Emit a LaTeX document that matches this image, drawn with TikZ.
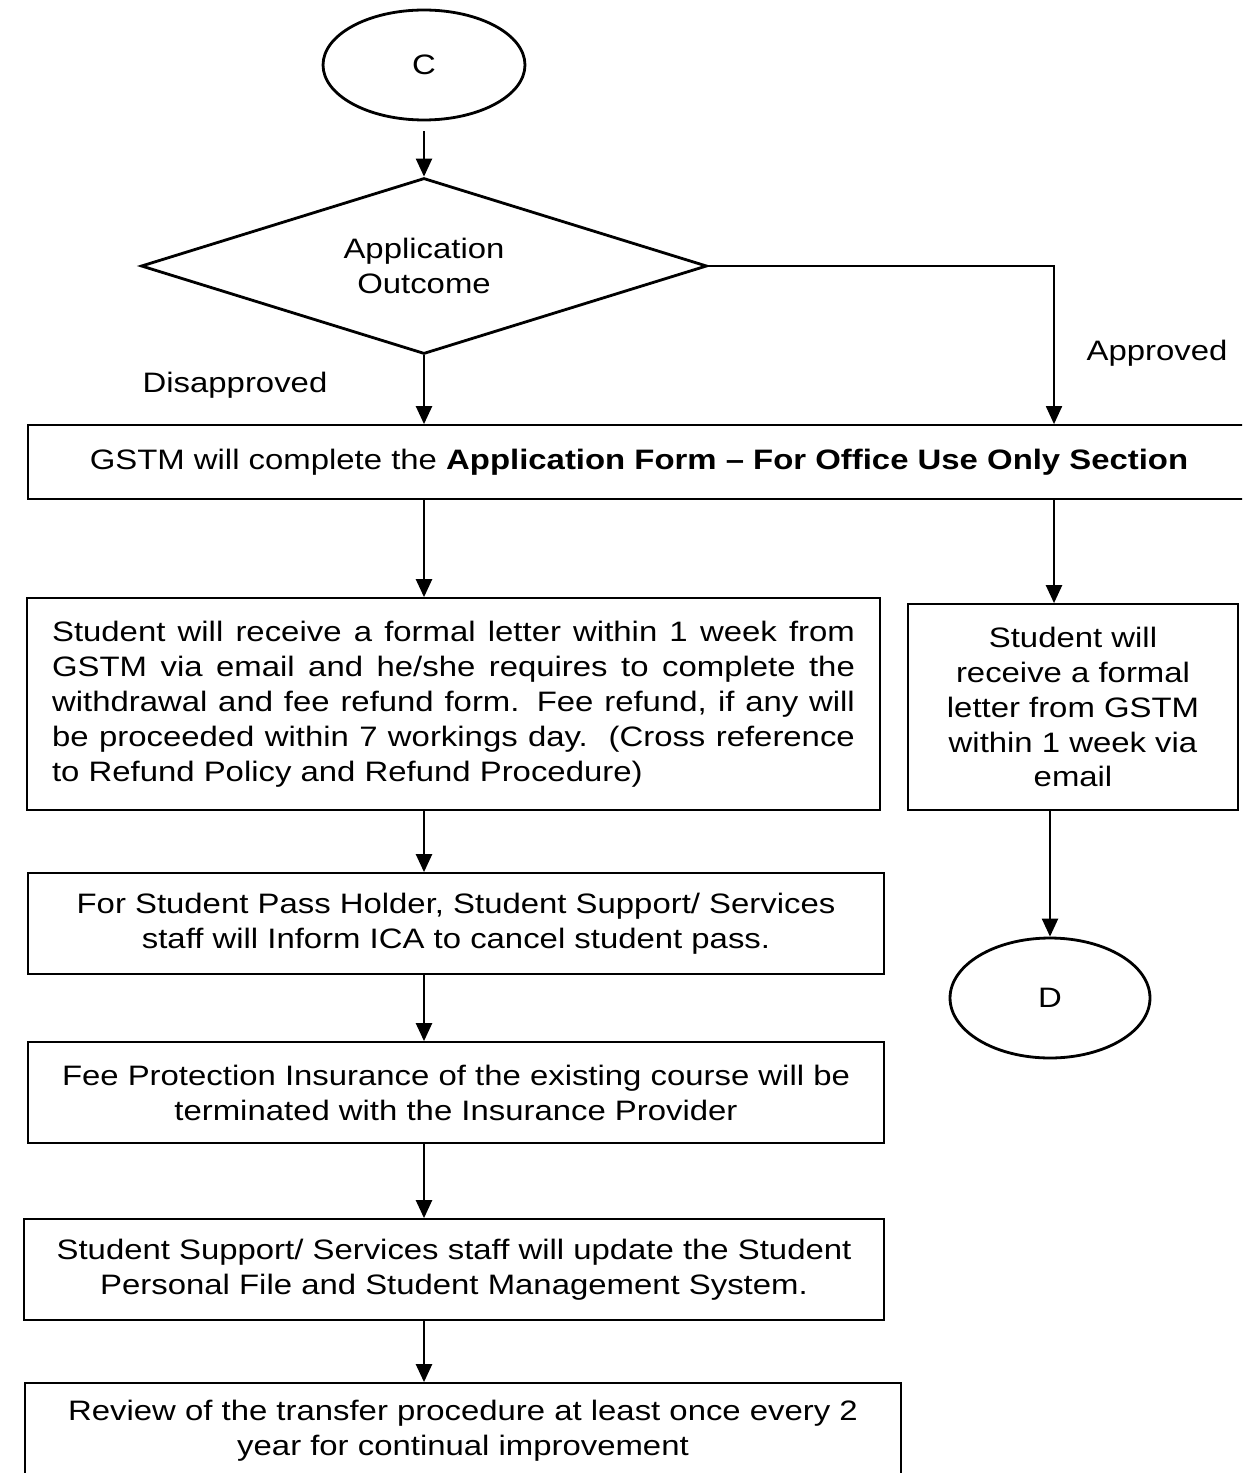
\documentclass[tikz,border=0pt]{standalone}
\usepackage{fontspec}
\setmainfont{Liberation Sans}[FakeStretch=1.17]
\usetikzlibrary{shapes.geometric,arrows.meta}

\begin{document}
\begin{tikzpicture}[x=0.02cm,y=-0.02cm,
  txt/.style={font=\fontsize{16}{19.9}\selectfont},
  box/.style={txt,shape=rectangle,draw=black,align=center,inner sep=0pt,line width=1pt},
  term/.style={txt,shape=ellipse,draw=black,align=center,inner sep=0pt,line width=1.6pt},
  arr/.style={-{Triangle[width=0.32cm,length=0.36cm]},draw=black,line width=1.3pt}]
\useasboundingbox (0,0) rectangle (1242,1473);
\clip (0,0) rectangle (1242,1473);
\node[term,minimum width=4.04cm,minimum height=2.2cm] (c) at (424,65) {C};
\node[txt,shape=diamond,draw=black,align=center,inner sep=0pt,line width=1.6pt,aspect=3.2,minimum width=11.32cm,minimum height=3.52cm] (dec) at (424,266) {Application\\Outcome};
\node[txt] (dis) at (235,385) {Disapproved};
\node[txt] (app) at (1157,353) {Approved};
\coordinate (turn) at (1054,266);
\node[box,minimum width=24.44cm,minimum height=1.48cm] (form) at (639,462) {GSTM will complete the \textbf{Application Form -- For Office Use Only Section}};
\node[box,align=justify,text width=16.06cm,minimum width=17.06cm,minimum height=4.24cm] (refund) at (453.5,704) {Student will receive a formal letter within 1 week from\linebreak GSTM via email and he/she requires to complete the\linebreak withdrawal and fee refund form. Fee refund, if any will\linebreak be proceeded within 7 workings day.\ \ (Cross reference\linebreak to Refund Policy and Refund Procedure)};
\node[box,minimum width=6.6cm,minimum height=4.12cm] (letter) at (1073,707) {Student will\\receive a formal\\letter from GSTM\\within 1 week via\\email};
\node[term,minimum width=4.0cm,minimum height=2.4cm] (d) at (1050,998) {D};
\node[box,minimum width=17.12cm,minimum height=2.02cm] (pass) at (456,923.5) {For Student Pass Holder, Student Support/ Services\\staff will Inform ICA to cancel student pass.};
\node[box,minimum width=17.12cm,minimum height=2.02cm] (ins) at (456,1092.5) {Fee Protection Insurance of the existing course will be\\terminated with the Insurance Provider};
\node[box,minimum width=17.2cm,minimum height=2.02cm] (upd) at (454,1269.5) {Student Support/ Services staff will update the Student\\Personal File and Student Management System.};
\node[box,minimum width=17.52cm,minimum height=1.92cm] (rev) at (463,1431) {Review of the transfer procedure at least once every 2\\year for continual improvement};

\draw[arr,shorten <=0.2cm] (c) -- (dec);
\draw[arr] (dec.south) -- (dec.south |- form.north);
\draw[arr,line width=1.1pt] (dec.east) -- (turn) -- (turn |- form.north);
\draw[arr] (dec.south |- form.south) -- (dec.south |- refund.north);
\draw[arr] (turn |- form.south) -- (turn |- letter.north);
\draw[arr] (d.north |- letter.south) -- (d.north);
\draw[arr] (dec.south |- refund.south) -- (dec.south |- pass.north);
\draw[arr] (dec.south |- pass.south) -- (dec.south |- ins.north);
\draw[arr] (dec.south |- ins.south) -- (dec.south |- upd.north);
\draw[arr] (dec.south |- upd.south) -- (dec.south |- rev.north);
\end{tikzpicture}
\end{document}
